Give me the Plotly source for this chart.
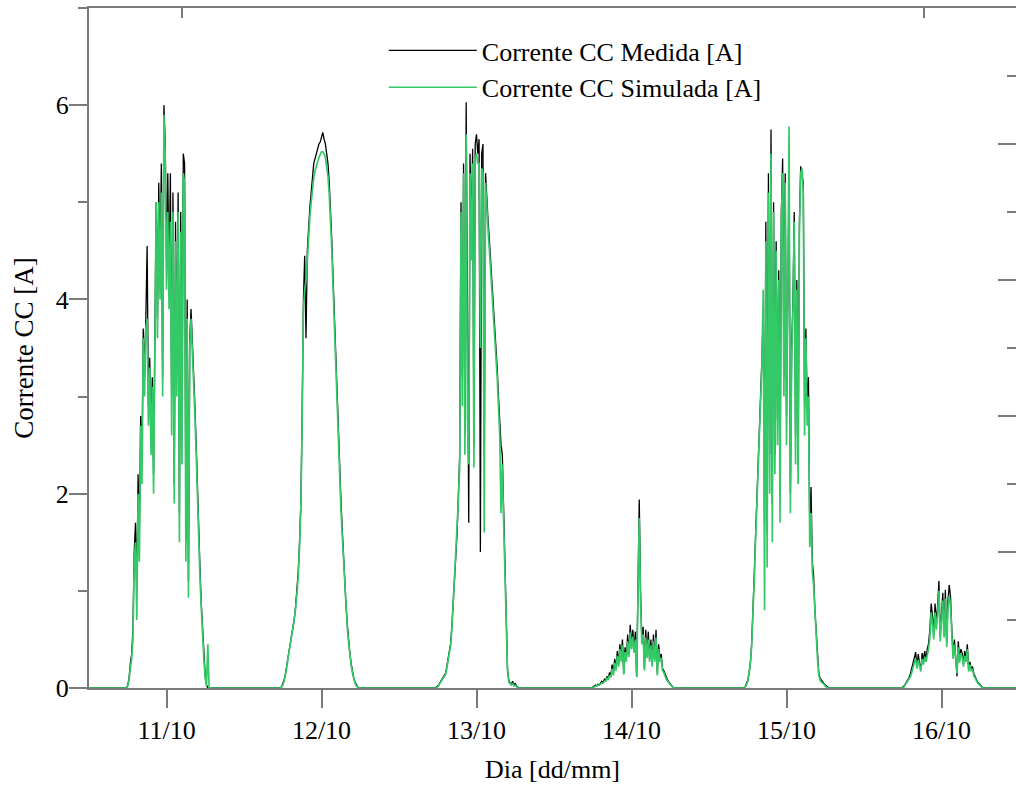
import plotly.graph_objects as go

# ---- data -------------------------------------------------------------
days = [11, 12, 13, 14, 15, 16]
day_labels = ["11/10", "12/10", "13/10", "14/10", "15/10", "16/10"]
# sampling hours of each day (every 12 min, 05:24 .. 18:48)
hours = [round(5.4 + 0.2 * i, 1) for i in range(68)]

med_11 = [0, 0, 0, 0.03, 0.1, 0.25, 0.35, 0.6, 1.4, 1.7,
          1.0, 2.2, 1.6, 2.8, 2.3, 3.7, 3.2, 3.8, 4.55, 2.9,
          3.4, 2.6, 3.2, 2.2, 3.6, 5.0, 3.8, 5.2, 4.3, 5.4,
          3.2, 6.0, 5.6, 4.4, 5.3, 4.2, 5.3, 3.0, 5.1, 2.1,
          4.8, 3.3, 5.1, 1.8, 4.9, 2.6, 5.5, 5.4, 1.5, 4.0,
          1.1, 3.6, 3.9, 3.6, 3.2, 2.9, 2.5, 2.0, 1.6, 1.2,
          0.85, 0.55, 0.3, 0.12, 0.03, 0, 0, 0]
sim_11 = [0, 0, 0, 0.02, 0.08, 0.2, 0.3, 0.5, 1.3, 1.5,
          0.7, 2.0, 1.3, 2.7, 2.1, 3.6, 3.0, 3.7, 3.8, 2.7,
          3.3, 2.4, 3.1, 2.0, 3.5, 5.0, 3.6, 5.0, 4.0, 5.1,
          3.0, 5.9, 5.5, 4.1, 4.9, 3.9, 4.8, 2.6, 4.9, 1.9,
          4.6, 3.0, 4.9, 1.5, 4.7, 2.3, 5.3, 5.2, 1.3, 3.8,
          0.93, 3.5, 3.8, 3.5, 3.1, 2.8, 2.4, 1.9, 1.5, 1.1,
          0.8, 0.5, 0.28, 0.1, 0.02, 0.45, 0, 0]

med_12 = [0, 0, 0.01, 0.04, 0.08, 0.14, 0.22, 0.32, 0.42, 0.5,
          0.58, 0.64, 0.72, 0.85, 1.0, 1.2, 1.5, 1.9, 2.8, 4.0,
          4.45, 3.6, 4.5, 4.75, 4.95, 5.1, 5.3, 5.4, 5.45, 5.5,
          5.55, 5.6, 5.62, 5.66, 5.72, 5.65, 5.6, 5.5, 5.4, 5.2,
          4.95, 4.6, 4.2, 3.8, 3.4, 3.0, 2.6, 2.25, 1.95, 1.65,
          1.35, 1.1, 0.85, 0.65, 0.48, 0.35, 0.25, 0.16, 0.1, 0.06,
          0.03, 0.01, 0, 0, 0, 0, 0, 0]
sim_12 = [0, 0, 0.01, 0.03, 0.07, 0.12, 0.2, 0.3, 0.4, 0.48,
          0.55, 0.62, 0.7, 0.82, 0.97, 1.15, 1.45, 1.85, 2.7, 3.9,
          4.1, 4.2, 4.4, 4.65, 4.85, 5.0, 5.15, 5.25, 5.32, 5.38,
          5.42, 5.46, 5.5, 5.52, 5.52, 5.5, 5.46, 5.38, 5.27, 5.08,
          4.85, 4.5, 4.1, 3.7, 3.3, 2.9, 2.5, 2.15, 1.85, 1.58,
          1.3, 1.05, 0.82, 0.62, 0.46, 0.33, 0.23, 0.15, 0.09, 0.05,
          0.02, 0.01, 0, 0, 0, 0, 0, 0]

med_13 = [0, 0, 0.01, 0.02, 0.04, 0.06, 0.08, 0.1, 0.12, 0.15,
          0.22, 0.3, 0.38, 0.46, 0.65, 0.9, 1.15, 1.4, 1.6, 2.0,
          2.4, 5.0, 3.2, 5.4, 2.6, 6.03, 3.0, 1.7, 5.5, 4.6,
          5.55, 2.5, 5.6, 5.7, 5.5, 5.65, 1.4, 5.5, 5.6, 2.5,
          5.3, 5.0, 4.8, 4.6, 4.4, 4.2, 4.0, 3.8, 3.6, 3.3,
          3.0, 2.7, 2.5, 2.4, 1.8, 1.3, 0.7, 0.2, 0.08, 0.05,
          0.04, 0.07, 0.03, 0.05, 0.02, 0.01, 0, 0]
sim_13 = [0, 0, 0, 0.01, 0.03, 0.05, 0.07, 0.09, 0.11, 0.14,
          0.2, 0.28, 0.36, 0.44, 0.62, 0.88, 1.1, 1.35, 1.55, 1.95,
          2.3, 4.9, 2.9, 5.3, 2.4, 5.7, 2.8, 2.3, 5.3, 4.4,
          5.4, 2.27, 5.45, 5.5, 5.4, 5.4, 3.5, 5.35, 5.3, 1.6,
          5.2, 4.9, 4.7, 4.5, 4.3, 4.1, 3.9, 3.7, 3.5, 3.2,
          2.9, 2.6, 1.8, 2.3, 1.7, 1.2, 0.65, 0.18, 0.06, 0.04,
          0.03, 0.05, 0.02, 0.03, 0.01, 0, 0, 0]

med_14 = [0, 0, 0, 0.01, 0.02, 0.03, 0.02, 0.04, 0.03, 0.05,
          0.07, 0.06, 0.09, 0.08, 0.12, 0.1, 0.16, 0.13, 0.24, 0.15,
          0.3, 0.2, 0.38, 0.25, 0.45, 0.3, 0.5, 0.15, 0.42, 0.3,
          0.55, 0.35, 0.65, 0.45, 0.6, 0.4, 0.58, 0.12, 0.9, 1.94,
          1.0, 0.5, 0.63, 0.2, 0.6, 0.35, 0.58, 0.3, 0.5, 0.25,
          0.55, 0.3, 0.6, 0.15, 0.45, 0.3, 0.35, 0.2, 0.18, 0.14,
          0.1, 0.08, 0.06, 0.04, 0.02, 0.01, 0, 0]
sim_14 = [0, 0, 0, 0, 0.01, 0.02, 0.02, 0.03, 0.03, 0.04,
          0.05, 0.05, 0.07, 0.07, 0.1, 0.09, 0.13, 0.11, 0.2, 0.13,
          0.26, 0.18, 0.33, 0.22, 0.4, 0.27, 0.44, 0.14, 0.37, 0.27,
          0.48, 0.32, 0.57, 0.4, 0.53, 0.36, 0.5, 0.11, 0.8, 1.75,
          0.9, 0.45, 0.55, 0.18, 0.52, 0.31, 0.5, 0.27, 0.44, 0.22,
          0.48, 0.27, 0.52, 0.13, 0.4, 0.27, 0.31, 0.18, 0.16, 0.12,
          0.09, 0.07, 0.05, 0.03, 0.02, 0.01, 0, 0]

med_15 = [0, 0.01, 0.04, 0.08, 0.15, 0.25, 0.45, 0.75, 1.15, 1.55,
          1.9, 2.2, 2.55, 2.95, 3.4, 3.9, 1.7, 4.8, 1.6, 5.3,
          2.4, 5.75, 1.9, 5.0, 2.4, 4.6, 2.76, 4.3, 1.97, 4.9,
          5.45, 3.2, 5.3, 2.8, 4.3, 5.2, 2.0, 3.5, 4.0, 4.9,
          2.6, 4.2, 2.3, 4.8, 5.37, 5.3, 5.2, 2.9, 3.7, 2.9,
          3.2, 1.63, 2.07, 1.3, 1.15, 0.8, 0.57, 0.32, 0.15, 0.1,
          0.08, 0.07, 0.05, 0.03, 0.02, 0.01, 0, 0]
sim_15 = [0, 0.01, 0.03, 0.07, 0.14, 0.24, 0.43, 0.72, 1.1, 1.5,
          1.85, 2.15, 2.5, 2.9, 3.35, 4.1, 0.8, 4.6, 1.24, 5.1,
          2.0, 5.5, 1.5, 4.9, 2.2, 4.5, 2.5, 4.2, 1.7, 4.8,
          5.3, 3.0, 5.2, 2.5, 4.2, 5.78, 1.8, 3.4, 3.9, 4.8,
          2.3, 4.1, 2.1, 4.7, 5.3, 5.35, 5.1, 2.6, 3.6, 2.7,
          3.0, 1.45, 1.8, 1.2, 1.05, 0.75, 0.53, 0.3, 0.13, 0.08,
          0.06, 0.05, 0.04, 0.02, 0.01, 0, 0, 0]

med_16 = [0, 0, 0, 0.01, 0.02, 0.04, 0.06, 0.09, 0.11, 0.15,
          0.2, 0.27, 0.32, 0.37, 0.22, 0.35, 0.25, 0.19, 0.36, 0.28,
          0.38, 0.3, 0.4, 0.46, 0.6, 0.87, 0.75, 0.55, 0.87, 0.67,
          0.85, 1.1, 0.53, 0.75, 0.98, 0.57, 1.01, 0.46, 0.9, 1.06,
          0.94, 0.6, 0.33, 0.5, 0.35, 0.12, 0.48, 0.29, 0.4, 0.36,
          0.25, 0.38, 0.3, 0.45, 0.19, 0.27, 0.2, 0.22, 0.15, 0.12,
          0.09, 0.06, 0.05, 0.03, 0.01, 0, 0, 0]
sim_16 = [0, 0, 0, 0, 0.01, 0.03, 0.05, 0.07, 0.09, 0.12,
          0.16, 0.22, 0.26, 0.3, 0.2, 0.29, 0.22, 0.17, 0.3, 0.24,
          0.32, 0.27, 0.34, 0.4, 0.52, 0.78, 0.66, 0.5, 0.78, 0.6,
          0.76, 1.0, 0.48, 0.68, 0.9, 0.52, 0.92, 0.42, 0.82, 0.95,
          0.85, 0.55, 0.3, 0.45, 0.31, 0.15, 0.42, 0.26, 0.36, 0.32,
          0.22, 0.33, 0.27, 0.4, 0.17, 0.24, 0.18, 0.19, 0.13, 0.1,
          0.07, 0.05, 0.04, 0.02, 0.01, 0, 0, 0]

measured = [med_11, med_12, med_13, med_14, med_15, med_16]
simulated = [sim_11, sim_12, sim_13, sim_14, sim_15, sim_16]

x_start, x_end = 10.5, 16.5

# ---- build continuous time axis (day number, integer = midday) -------
xs = [x_start]
ym = [0]
ysim = [0]
for d, m, s in zip(days, measured, simulated):
    xs += [d + (h - 12) / 24 for h in hours]
    ym += m
    ysim += s
xs.append(x_end)
ym.append(0)
ysim.append(0)

FONT = "Liberation Serif, Times New Roman, serif"
AX = "#7a7a7a"

fig = go.Figure()
fig.add_trace(go.Scatter(x=xs, y=ym, mode="lines", name="Corrente CC Medida [A]",
                         line=dict(color="black", width=1.3)))
fig.add_trace(go.Scatter(x=xs, y=ysim, mode="lines", name="Corrente CC Simulada [A]",
                         line=dict(color="#34c967", width=1.7)))

W, H = 1016, 792
L, R, T, B = 89, 0, 8, 104
px_per_day = 155.0
x_hi = x_start + (W - L - R) / px_per_day

fig.update_layout(
    width=W, height=H,
    margin=dict(l=L, r=R, t=T, b=B, pad=0),
    paper_bgcolor="white", plot_bgcolor="white",
    font=dict(family=FONT, size=26, color="black"),
    showlegend=True,
    legend=dict(x=0.318, y=0.972, xanchor="left", yanchor="top",
                bgcolor="rgba(0,0,0,0)", borderwidth=0,
                font=dict(family=FONT, size=26, color="black"),
                itemwidth=88, tracegroupgap=0),
    xaxis=dict(range=[x_start, x_hi], tickmode="array", tickvals=days, ticktext=day_labels,
               ticks="outside", ticklen=18, tickwidth=1.5, tickcolor=AX,
               showline=True, linecolor=AX, linewidth=1.5, mirror=True,
               showgrid=False, zeroline=False,
               tickfont=dict(family=FONT, size=26),
               title=dict(text="Dia [dd/mm]", font=dict(family=FONT, size=26), standoff=16)),
    # left axis: line + major/minor ticks (labels drawn by yaxis3)
    yaxis=dict(range=[0, 7], tick0=0, dtick=2,
               ticks="outside", ticklen=18, tickwidth=1.5, tickcolor=AX,
               minor=dict(dtick=1, tick0=0, ticks="outside", ticklen=9, tickwidth=1.5, tickcolor=AX,
                          showgrid=False),
               showline=True, linecolor=AX, linewidth=1.5, mirror=False,
               showgrid=False, zeroline=False, showticklabels=False),
    # left axis labels + title
    yaxis3=dict(overlaying="y", side="left", anchor="x", range=[0, 7], tick0=0, dtick=2,
                ticks="outside", ticklen=14, tickcolor="rgba(0,0,0,0)",
                showline=False, showgrid=False, zeroline=False,
                tickfont=dict(family=FONT, size=26),
                title=dict(text="Corrente CC [A]", font=dict(family=FONT, size=27), standoff=14)),
    yaxis2=dict(overlaying="y", side="right", range=[0, 10], tick0=0, dtick=2,
                ticks="inside", ticklen=18, tickwidth=1.5, tickcolor=AX,
                minor=dict(dtick=1, tick0=0, ticks="inside", ticklen=9, tickwidth=1.5, tickcolor=AX,
                           showgrid=False),
                showticklabels=False, showline=False, showgrid=False, zeroline=False),
    xaxis2=dict(overlaying="x", side="top", range=[x_start, x_hi], tickmode="array",
                tickvals=[11.1, 15.887], ticks="inside", ticklen=10, tickwidth=1.5, tickcolor=AX,
                showticklabels=False, showline=False, showgrid=False, zeroline=False),
)

# invisible helpers so the secondary axes are rendered
fig.add_trace(go.Scatter(x=[x_start], y=[0], xaxis="x2", yaxis="y2", mode="lines",
                         showlegend=False, hoverinfo="skip", line=dict(width=0)))
fig.add_trace(go.Scatter(x=[x_start], y=[0], xaxis="x", yaxis="y3", mode="lines",
                         showlegend=False, hoverinfo="skip", line=dict(width=0)))

fig.write_html("out.html")
